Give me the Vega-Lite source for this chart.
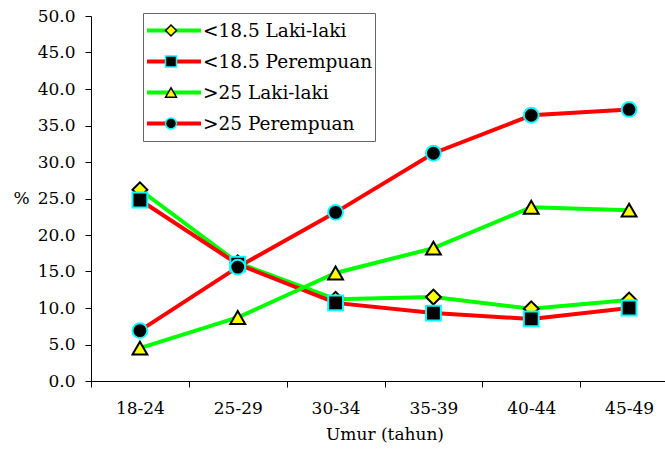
{
  "$schema": "https://vega.github.io/schema/vega-lite/v6.json",
  "width": 574,
  "height": 365,
  "autosize": {"type": "none"},
  "padding": {"left": 91, "top": 16, "right": 0, "bottom": 69},
  "background": "white",
  "config": {
    "font": "DejaVu Serif",
    "view": {"stroke": null},
    "axis": {"grid": false, "labelFont": "DejaVu Serif", "titleFont": "DejaVu Serif", "domainColor": "#000000", "tickColor": "#000000", "labelColor": "#000000", "titleColor": "#000000", "titleFontWeight": "normal", "domainWidth": 1, "tickWidth": 1},
    "legend": {"labelFont": "DejaVu Serif", "titleFont": "DejaVu Serif"}
  },
  "data": {
    "values": [
      {"umur": "18-24", "series": "<18.5 Laki-laki", "value": 26.2},
      {"umur": "25-29", "series": "<18.5 Laki-laki", "value": 16.2},
      {"umur": "30-34", "series": "<18.5 Laki-laki", "value": 11.2},
      {"umur": "35-39", "series": "<18.5 Laki-laki", "value": 11.5},
      {"umur": "40-44", "series": "<18.5 Laki-laki", "value": 9.9},
      {"umur": "45-49", "series": "<18.5 Laki-laki", "value": 11.1},
      {"umur": "18-24", "series": "<18.5 Perempuan", "value": 24.8},
      {"umur": "25-29", "series": "<18.5 Perempuan", "value": 16.0},
      {"umur": "30-34", "series": "<18.5 Perempuan", "value": 10.7},
      {"umur": "35-39", "series": "<18.5 Perempuan", "value": 9.3},
      {"umur": "40-44", "series": "<18.5 Perempuan", "value": 8.5},
      {"umur": "45-49", "series": "<18.5 Perempuan", "value": 10.0},
      {"umur": "18-24", "series": ">25 Laki-laki", "value": 4.5},
      {"umur": "25-29", "series": ">25 Laki-laki", "value": 8.7},
      {"umur": "30-34", "series": ">25 Laki-laki", "value": 14.8},
      {"umur": "35-39", "series": ">25 Laki-laki", "value": 18.2},
      {"umur": "40-44", "series": ">25 Laki-laki", "value": 23.8},
      {"umur": "45-49", "series": ">25 Laki-laki", "value": 23.4},
      {"umur": "18-24", "series": ">25 Perempuan", "value": 6.9},
      {"umur": "25-29", "series": ">25 Perempuan", "value": 15.6},
      {"umur": "30-34", "series": ">25 Perempuan", "value": 23.1},
      {"umur": "35-39", "series": ">25 Perempuan", "value": 31.2},
      {"umur": "40-44", "series": ">25 Perempuan", "value": 36.4},
      {"umur": "45-49", "series": ">25 Perempuan", "value": 37.2}
    ]
  },
  "encoding": {
    "x": {
      "field": "umur", "type": "nominal",
      "scale": {"type": "band", "paddingInner": 0, "paddingOuter": 0, "range": [0, 587]},
      "axis": {"labelAngle": 0, "tickBand": "extent", "tickSize": 6, "labelPadding": 13, "labelFontSize": 17, "title": "Umur (tahun)", "titleFontSize": 17, "titlePadding": 10}
    },
    "y": {
      "field": "value", "type": "quantitative",
      "scale": {"domain": [0, 50], "nice": false, "zero": true},
      "axis": {"values": [0, 5, 10, 15, 20, 25, 30, 35, 40, 45, 50], "format": ".1f", "tickSize": 6, "labelPadding": 10, "labelFontSize": 17, "title": "%", "titleAngle": 0, "titleFontSize": 17, "titleX": -78, "titleY": 182.5, "titleAlign": "left", "titleBaseline": "middle"}
    }
  },
  "layer": [
    {
      "mark": {"type": "line", "strokeWidth": 4},
      "encoding": {
        "color": {
          "field": "series", "type": "nominal",
          "scale": {"domain": ["<18.5 Laki-laki", "<18.5 Perempuan", ">25 Laki-laki", ">25 Perempuan"], "range": ["#00FF00", "#FF0000", "#00FF00", "#FF0000"]},
          "legend": {"orient": "none", "legendX": 52, "legendY": -3, "padding": 2, "strokeColor": "#666666", "title": null, "symbolType": "stroke", "symbolSize": 2916, "symbolStrokeWidth": 4, "symbolOffset": 0, "labelOffset": 0, "labelFontSize": 18.5, "labelColor": "#000000", "clipHeight": 31, "rowPadding": 0, "labelLimit": 400, "labelExpr": "datum.label + '\u00a0'"}
        }
      }
    },
    {
      "mark": {"type": "point", "opacity": 1, "size": 220, "strokeWidth": 2, "filled": false},
      "encoding": {
        "shape": {"field": "series", "type": "nominal", "scale": {"range": ["diamond", "square", "triangle-up", "circle"]}, "legend": {"orient": "none", "legendX": 52, "legendY": -3, "padding": 2, "title": null, "symbolSize": 120, "symbolStrokeWidth": 1.5, "symbolOffset": 16.75, "labelFontSize": 18.5, "labelExpr": "''", "clipHeight": 31, "rowPadding": 0, "labelLimit": 400}},
        "fill": {"field": "series", "type": "nominal", "scale": {"range": ["#FFFF00", "#000000", "#FFFF00", "#000000"]}},
        "stroke": {"field": "series", "type": "nominal", "scale": {"range": ["#000000", "#00FFFF", "#000000", "#00FFFF"]}}
      }
    }
  ]
}
